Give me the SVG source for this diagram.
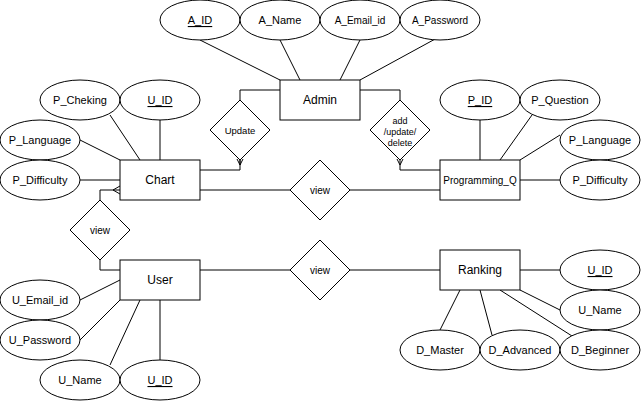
<svg xmlns="http://www.w3.org/2000/svg" width="641" height="401" viewBox="0 0 641 401">
<style>
.s{fill:#fff;stroke:#000;stroke-width:1}
.l{fill:none;stroke:#000;stroke-width:1}
text{font-family:"Liberation Sans",Arial,sans-serif;fill:#000;text-anchor:middle;dominant-baseline:central}
.e{font-size:12px}
.a{font-size:11px}
.b{font-size:10px}
.r{font-size:10px}
.k{text-decoration:underline}
</style>
<rect width="641" height="401" fill="#fff"/>
<g id="connectors" class="l">
<line x1="200" y1="40" x2="280" y2="80"/>
<line x1="280" y1="40" x2="300" y2="80"/>
<line x1="360" y1="40" x2="340" y2="80"/>
<line x1="437" y1="38" x2="360" y2="80"/>
<polyline points="280,90 240,90 240,100"/>
<polyline points="200,170 240,170 240,160"/>
<polyline points="237,159 240,165 243,159"/>
<line x1="240" y1="165" x2="240" y2="160"/>
<polyline points="360,90 400,90 400,100"/>
<polyline points="440,170 400,170 400,160"/>
<polyline points="397,159 400,165 403,159"/>
<line x1="110" y1="115" x2="140" y2="160"/>
<line x1="160" y1="120" x2="160" y2="160"/>
<line x1="80" y1="140" x2="120" y2="160"/>
<line x1="80" y1="180" x2="120" y2="180"/>
<line x1="200" y1="190" x2="290" y2="190"/>
<line x1="350" y1="190" x2="440" y2="190"/>
<line x1="480" y1="120" x2="480" y2="160"/>
<line x1="532" y1="115" x2="500" y2="160"/>
<line x1="560" y1="135" x2="520" y2="160"/>
<line x1="520" y1="180" x2="560" y2="180"/>
<polyline points="100,200 100,190 120,190"/>
<polyline points="120,186 113,190 120,194"/>
<polyline points="100,260 100,270 120,270"/>
<line x1="80" y1="300" x2="120" y2="280"/>
<line x1="80" y1="340" x2="120" y2="300"/>
<line x1="110" y1="365" x2="140" y2="300"/>
<line x1="160" y1="360" x2="160" y2="300"/>
<line x1="200" y1="270" x2="290" y2="270"/>
<line x1="350" y1="270" x2="440" y2="270"/>
<line x1="520" y1="270" x2="560" y2="270"/>
<line x1="520" y1="290" x2="560" y2="310"/>
<line x1="460" y1="290" x2="440" y2="330"/>
<line x1="480" y1="290" x2="492" y2="335"/>
<line x1="500" y1="290" x2="572" y2="336"/>
</g>
<g id="A_ID"><ellipse class="s" cx="200" cy="20" rx="40" ry="20"/><text class="a k" x="200" y="20">A_ID</text></g>
<g id="A_Name"><ellipse class="s" cx="280" cy="20" rx="40" ry="20"/><text class="a" x="280" y="20">A_Name</text></g>
<g id="A_Email_id"><ellipse class="s" cx="360" cy="20" rx="40" ry="20"/><text class="b" x="360" y="20">A_Email_id</text></g>
<g id="A_Password"><ellipse class="s" cx="440" cy="20" rx="40" ry="20"/><text class="b" x="440" y="20">A_Password</text></g>
<g id="Admin"><rect class="s" x="280" y="80" width="80" height="40"/><text class="e" x="320" y="100">Admin</text></g>
<g id="Update"><polygon class="s" points="240,100 270,130 240,160 210,130"/><text class="r" x="240" y="130" style="font-size:9.5px">Update</text></g>
<g id="AddUpdateDelete"><polygon class="s" points="400,100 430,130 400,160 370,130"/><text x="400" y="121" style="font-size:9px">add</text><text x="400" y="132" style="font-size:9px">/update/</text><text x="400" y="143" style="font-size:9px">delete</text></g>
<g id="P_Cheking"><ellipse class="s" cx="80" cy="100" rx="40" ry="20"/><text class="a" x="80" y="100">P_Cheking</text></g>
<g id="Chart_U_ID"><ellipse class="s" cx="160" cy="100" rx="40" ry="20"/><text class="a k" x="160" y="100">U_ID</text></g>
<g id="Chart_P_Language"><ellipse class="s" cx="40" cy="140" rx="40" ry="20"/><text class="a" x="40" y="140">P_Language</text></g>
<g id="Chart_P_Difficulty"><ellipse class="s" cx="40" cy="180" rx="40" ry="20"/><text class="a" x="40" y="180">P_Difficulty</text></g>
<g id="Chart"><rect class="s" x="120" y="160" width="80" height="40"/><text class="e" x="160" y="180">Chart</text></g>
<g id="View1"><polygon class="s" points="320,160 350,190 320,220 290,190"/><text class="r" x="320" y="190">view</text></g>
<g id="P_ID"><ellipse class="s" cx="480" cy="100" rx="40" ry="20"/><text class="a k" x="480" y="100">P_ID</text></g>
<g id="P_Question"><ellipse class="s" cx="560" cy="100" rx="40" ry="20"/><text class="a" x="560" y="100">P_Question</text></g>
<g id="PQ_P_Language"><ellipse class="s" cx="600" cy="140" rx="40" ry="20"/><text class="a" x="600" y="140">P_Language</text></g>
<g id="PQ_P_Difficulty"><ellipse class="s" cx="600" cy="180" rx="40" ry="20"/><text class="a" x="600" y="180">P_Difficulty</text></g>
<g id="Programming_Q"><rect class="s" x="440" y="160" width="80" height="40"/><text x="480" y="180" style="font-size:10px">Programming_Q</text></g>
<g id="View2"><polygon class="s" points="100,200 130,230 100,260 70,230"/><text class="r" x="100" y="230">view</text></g>
<g id="User"><rect class="s" x="120" y="260" width="80" height="40"/><text class="e" x="160" y="280">User</text></g>
<g id="U_Email_id"><ellipse class="s" cx="40" cy="300" rx="40" ry="20"/><text class="a" x="40" y="300">U_Email_id</text></g>
<g id="U_Password"><ellipse class="s" cx="40" cy="340" rx="40" ry="20"/><text class="a" x="40" y="340">U_Password</text></g>
<g id="U_Name"><ellipse class="s" cx="80" cy="380" rx="40" ry="20"/><text class="a" x="80" y="380">U_Name</text></g>
<g id="User_U_ID"><ellipse class="s" cx="160" cy="380" rx="40" ry="20"/><text class="a k" x="160" y="380">U_ID</text></g>
<g id="View3"><polygon class="s" points="320,240 350,270 320,300 290,270"/><text class="r" x="320" y="270">view</text></g>
<g id="Ranking"><rect class="s" x="440" y="250" width="80" height="40"/><text class="e" x="480" y="270">Ranking</text></g>
<g id="R_U_ID"><ellipse class="s" cx="600" cy="270" rx="40" ry="20"/><text class="a k" x="600" y="270">U_ID</text></g>
<g id="R_U_Name"><ellipse class="s" cx="600" cy="310" rx="40" ry="20"/><text class="a" x="600" y="310">U_Name</text></g>
<g id="D_Master"><ellipse class="s" cx="440" cy="350" rx="40" ry="20"/><text class="a" x="440" y="350">D_Master</text></g>
<g id="D_Advanced"><ellipse class="s" cx="520" cy="350" rx="40" ry="20"/><text class="a" x="520" y="350">D_Advanced</text></g>
<g id="D_Beginner"><ellipse class="s" cx="600" cy="350" rx="40" ry="20"/><text class="a" x="600" y="350">D_Beginner</text></g>
</svg>
